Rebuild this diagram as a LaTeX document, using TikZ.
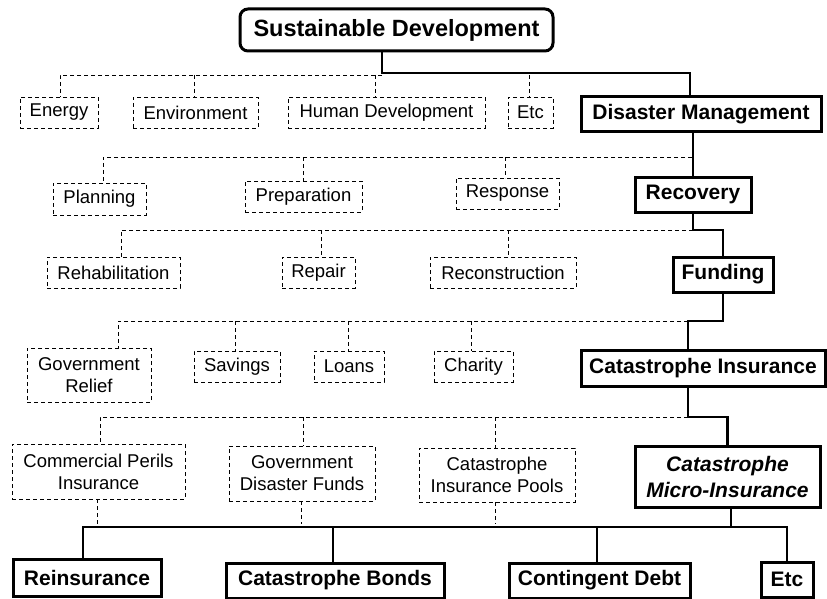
\documentclass[tikz,border=0pt]{standalone}
\usepackage{fontspec}
\setmainfont{Liberation Sans}
\begin{document}
\begin{tikzpicture}[x=1pt,y=-1pt,
  base/.style={anchor=north west, inner sep=0pt, outer sep=0pt, align=center},
  dbox/.style={base, draw, line width=0.9pt, dash pattern=on 4pt off 3pt, font=\fontsize{18.5}{22}\selectfont},
  tbox/.style={base, draw, line width=3pt, font=\fontsize{21}{26}\selectfont\bfseries},
  rbox/.style={base, draw, line width=3pt, rounded corners=8pt, font=\fontsize{23.5}{28}\selectfont\bfseries},
  sconn/.style={line width=2.4pt},
  dconn/.style={line width=0.9pt, dash pattern=on 4pt off 3pt}]
\useasboundingbox (0,0) rectangle (827,599);

% nodes
\node[rbox, minimum width=313pt, minimum height=42pt] (sd) at (240,9) {Sustainable Development};

\node[dbox, minimum width=78pt, minimum height=31pt] (energy) at (20,97) {Energy};
\node[dbox, minimum width=125pt, minimum height=31pt] (env) at (133,97) {Environment};
\node[dbox, minimum width=197pt, minimum height=31pt] (hd) at (288,97) {Human Development};
\node[dbox, minimum width=45pt, minimum height=31pt] (etc1) at (508,97) {Etc};
\node[tbox, minimum width=240pt, minimum height=35pt] (dm) at (581,97) {Disaster Management};

\node[dbox, minimum width=93pt, minimum height=32pt] (plan) at (53,183) {Planning};
\node[dbox, minimum width=117pt, minimum height=31pt] (prep) at (245,181) {Preparation};
\node[dbox, minimum width=103pt, minimum height=31pt] (resp) at (456,178) {Response};
\node[tbox, minimum width=116pt, minimum height=35pt] (rec) at (635,177) {Recovery};

\node[dbox, minimum width=133pt, minimum height=31pt] (rehab) at (47,257) {Rehabilitation};
\node[dbox, minimum width=73pt, minimum height=31pt] (repair) at (282,257) {Repair};
\node[dbox, minimum width=146pt, minimum height=31pt] (recon) at (430,257) {Reconstruction};
\node[tbox, minimum width=100pt, minimum height=35pt] (fund) at (673,257) {Funding};

\node[dbox, minimum width=124pt, minimum height=54pt] (gr) at (27,348) {Government\\Relief};
\node[dbox, minimum width=86pt, minimum height=31pt] (sav) at (194,351) {Savings};
\node[dbox, minimum width=70pt, minimum height=31pt] (loans) at (314,351) {Loans};
\node[dbox, minimum width=79pt, minimum height=31pt] (char) at (434,351) {Charity};
\node[tbox, minimum width=244pt, minimum height=36pt] (ci) at (581,350) {Catastrophe Insurance};

\node[dbox, minimum width=173pt, minimum height=55pt] (cpi) at (12,444) {Commercial Perils\\Insurance};
\node[dbox, minimum width=146pt, minimum height=55pt] (gdf) at (229,446) {Government\\Disaster Funds};
\node[dbox, minimum width=156pt, minimum height=54pt] (cip) at (419,448) {Catastrophe\\Insurance Pools};
\node[tbox, minimum width=185pt, minimum height=61pt, font=\fontsize{21}{26}\selectfont\bfseries\itshape] (micro) at (635,446) {Catastrophe\\Micro-Insurance};

\node[tbox, minimum width=148pt, minimum height=37pt] (reins) at (13,559) {Reinsurance};
\node[tbox, minimum width=218pt, minimum height=35pt] (cb) at (226,563) {Catastrophe Bonds};
\node[tbox, minimum width=181pt, minimum height=35pt] (cd) at (509,563) {Contingent Debt};
\node[tbox, minimum width=52pt, minimum height=35pt] (etc2) at (761,562) {Etc};

% junction coordinates
\coordinate (j1) at (382,73);
\coordinate (d1) at (382,75);
\coordinate (d2) at (692,157);
\coordinate (d3) at (693,230);
\coordinate (d4) at (688,321);
\coordinate (d5) at (688,417);
\coordinate (bus) at (731,527);
\coordinate (dbus) at (0,524);

% level 1
\draw[sconn] (sd.south -| j1) -- (j1) -| ([xshift=-11pt]dm.north);
\draw[dconn] (d1) -| ([xshift=1pt]energy.north);
\draw[dconn] ([xshift=-1.5pt]env.north |- d1) -- ([xshift=-1.5pt]env.north);
\draw[dconn] ([xshift=-11.5pt]hd.north |- d1) -- ([xshift=-11.5pt]hd.north);
\draw[dconn] ([xshift=-1.5pt]etc1.north |- d1) -- ([xshift=-1.5pt]etc1.north);

% level 2
\draw[sconn] (dm.south -| rec.north) -- (rec.north);
\draw[dconn] (d2) -| ([xshift=3.5pt]plan.north);
\draw[dconn] (prep.north |- d2) -- (prep.north);
\draw[dconn] ([xshift=-2.5pt]resp.north |- d2) -- ([xshift=-2.5pt]resp.north);

% level 3
\draw[sconn] (rec.south) -- (d3) -| (fund.north);
\draw[dconn] (d3) -| ([xshift=7.5pt]rehab.north);
\draw[dconn] ([xshift=2.5pt]repair.north |- d3) -- ([xshift=2.5pt]repair.north);
\draw[dconn] ([xshift=5pt]recon.north |- d3) -- ([xshift=5pt]recon.north);

% level 4
\draw[sconn] (fund.south) -- (fund.south |- d4) -- (d4) -- ([xshift=-15pt]ci.north);
\draw[dconn] (d4) -| ([xshift=29pt]gr.north);
\draw[dconn] ([xshift=-2pt]sav.north |- d4) -- ([xshift=-2pt]sav.north);
\draw[dconn] ([xshift=-1pt]loans.north |- d4) -- ([xshift=-1pt]loans.north);
\draw[dconn] ([xshift=-2.5pt]char.north |- d4) -- ([xshift=-2.5pt]char.north);

% level 5
\draw[sconn] ([xshift=-15pt]ci.south) -- (d5) -| (micro.north);
\draw[dconn] (d5) -| ([xshift=1.5pt]cpi.north);
\draw[dconn] ([xshift=1pt]gdf.north |- d5) -- ([xshift=1pt]gdf.north);
\draw[dconn] ([xshift=-2pt]cip.north |- d5) -- ([xshift=-2pt]cip.north);

% dashed drops below level 5
\draw[dconn] ([xshift=-1.5pt]cpi.south) -- ([xshift=-1.5pt]cpi.south |- dbus);
\draw[dconn] ([xshift=-1pt]gdf.south) -- ([xshift=-1pt]gdf.south |- dbus);
\draw[dconn] ([xshift=-2pt]cip.south) -- ([xshift=-2pt]cip.south |- dbus);

% level 6
\draw[sconn] ([xshift=3.5pt]micro.south) -- ([xshift=3.5pt]micro.south |- bus);
\draw[sconn] ([xshift=-4pt]reins.north) |- (etc2.north |- bus) -- (etc2.north);
\draw[sconn] ([xshift=-2pt]cb.north |- bus) -- ([xshift=-2pt]cb.north);
\draw[sconn] ([xshift=-2.5pt]cd.north |- bus) -- ([xshift=-2.5pt]cd.north);
\end{tikzpicture}
\end{document}
